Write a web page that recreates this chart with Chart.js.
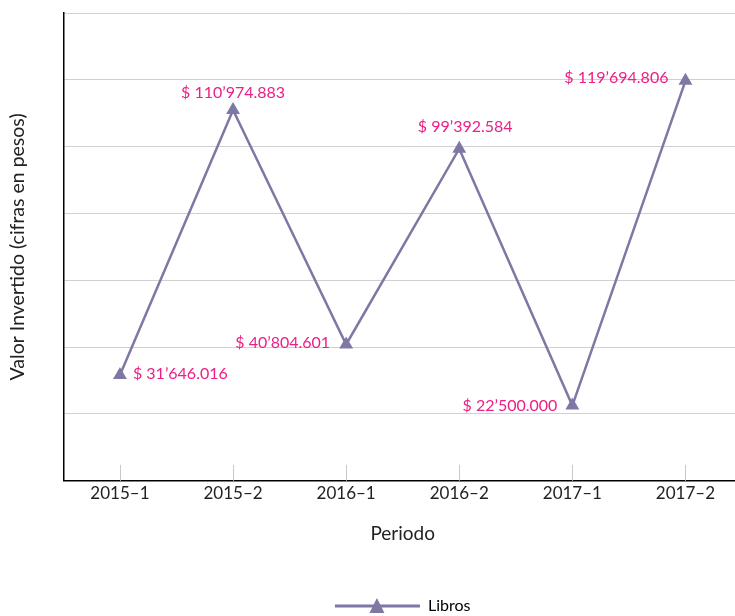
<!DOCTYPE html>
<html>
<head>
<meta charset="utf-8">
<script src="https://cdn.jsdelivr.net/npm/chart.js@4.4.0/dist/chart.umd.min.js"></script>
<style>
  html, body { margin: 0; padding: 0; overflow: hidden; background: #fff; }
  #wrap { width: 750px; height: 616px; }
</style>
</head>
<body>
<div id="wrap"><canvas id="grafico" width="750" height="616"></canvas></div>
<script>
// datos
var periodos = ['2015–1', '2015–2', '2016–1', '2016–2', '2017–1', '2017–2'];
var libros = [31646016, 110974883, 40804601, 99392584, 22500000, 119694806];
var serieNombre = 'Libros';

var colorLinea = '#7d78a4';
var colorTexto = '#ec1f86';
var fuente = 'Lato, "Open Sans", sans-serif';

function formatoPesos(v) {
    var m = Math.floor(v / 1e6);
    var t = Math.floor(v / 1e3) % 1000;
    var u = v % 1000;
    var pad = function(n){ return ('00' + n).slice(-3); };
    return '$ ' + m + '’' + pad(t) + '.' + pad(u);
}

// posicion de cada etiqueta respecto a su punto
var etiquetasPos = [
    {align: 'left',   dx: 13,  dy: -1},
    {align: 'center', dx: 0,   dy: -17},
    {align: 'right',  dx: -16, dy: -2},
    {align: 'center', dx: 6,   dy: -22},
    {align: 'right',  dx: -15, dy: 0},
    {align: 'right',  dx: -17, dy: -3}
];

var pluginEtiquetas = {
    id: 'etiquetas',
    afterDatasetsDraw: function(chart) {
        var ctx = chart.ctx;
        var meta = chart.getDatasetMeta(0);
        ctx.save();
        ctx.font = '16px ' + fuente;
        ctx.fillStyle = colorTexto;
        ctx.textBaseline = 'middle';
        meta.data.forEach(function(pt, i) {
            var p = etiquetasPos[i];
            ctx.textAlign = p.align;
            ctx.fillText(formatoPesos(libros[i]), pt.x + p.dx, pt.y + p.dy);
        });
        ctx.restore();
    }
};

// marcas cortas del eje x dentro del area
var pluginMarcas = {
    id: 'marcas',
    beforeDatasetsDraw: function(chart) {
        var ctx = chart.ctx;
        var x = chart.scales.x;
        var bottom = chart.chartArea.bottom;
        ctx.save();
        ctx.strokeStyle = '#c8c8c8';
        ctx.lineWidth = 1;
        periodos.forEach(function(p, i) {
            var px = Math.round(x.getPixelForValue(i)) + 0.5;
            ctx.beginPath();
            ctx.moveTo(px, bottom - 16);
            ctx.lineTo(px, bottom);
            ctx.stroke();
        });
        ctx.restore();
    },
    afterDraw: function(chart) {
        // triangulo en la muestra de la leyenda
        var lg = chart.legend;
        if (!lg || !lg.legendHitBoxes || !lg.legendHitBoxes.length) return;
        var hb = lg.legendHitBoxes[0];
        var cx = hb.left + 42;
        var cy = hb.top + hb.height / 2;
        var ctx = chart.ctx;
        ctx.save();
        ctx.fillStyle = colorLinea;
        ctx.beginPath();
        ctx.moveTo(cx, cy - 8);
        ctx.lineTo(cx + 7.5, cy + 7);
        ctx.lineTo(cx - 7.5, cy + 7);
        ctx.closePath();
        ctx.fill();
        ctx.restore();
    }
};

var ctx = document.getElementById('grafico');
var grafico = new Chart(ctx, {
    type: 'line',
    data: {
        labels: periodos,
        datasets: [{
            label: serieNombre,
            data: libros,
            borderColor: colorLinea,
            backgroundColor: colorLinea,
            borderWidth: 2.5,
            pointStyle: 'triangle',
            pointRadius: 8,
            pointBorderWidth: 0,
            pointBackgroundColor: colorLinea,
            tension: 0
        }]
    },
    options: {
        responsive: false,
        animation: false,
        layout: { padding: { left: 4, right: 0, top: 13, bottom: -8 } },
        plugins: {
            tooltip: { enabled: false },
            legend: {
                position: 'bottom',
                fullSize: false,
                labels: {
                    boxWidth: 85,
                    boxHeight: 3,
                    padding: 2,
                    color: '#222',
                    font: { family: fuente, size: 16 },
                    generateLabels: function(chart) {
                        return [{
                            text: serieNombre,
                            fillStyle: colorLinea,
                            strokeStyle: colorLinea,
                            lineWidth: 0,
                            datasetIndex: 0
                        }];
                    }
                }
            }
        },
        scales: {
            x: {
                offset: true,
                grid: { display: false, drawTicks: false },
                border: { display: true, color: '#000', width: 1.5 },
                ticks: { color: '#222', font: { family: fuente, size: 17 }, padding: 3 },
                title: {
                    display: true,
                    text: 'Periodo',
                    color: '#222',
                    font: { family: fuente, size: 19 },
                    padding: { top: 15, bottom: 51 }
                }
            },
            y: {
                min: 0,
                max: 140000000,
                ticks: { display: false, stepSize: 20000000 },
                grid: { color: '#d0d0d0', drawTicks: false },
                border: { display: true, color: '#000', width: 1.5 },
                title: {
                    display: true,
                    text: 'Valor Invertido (cifras en pesos)',
                    color: '#222',
                    font: { family: fuente, size: 19.5 },
                    padding: { top: 2, bottom: 34 }
                }
            }
        }
    },
    plugins: [pluginEtiquetas, pluginMarcas]
});
</script>
</body>
</html>
